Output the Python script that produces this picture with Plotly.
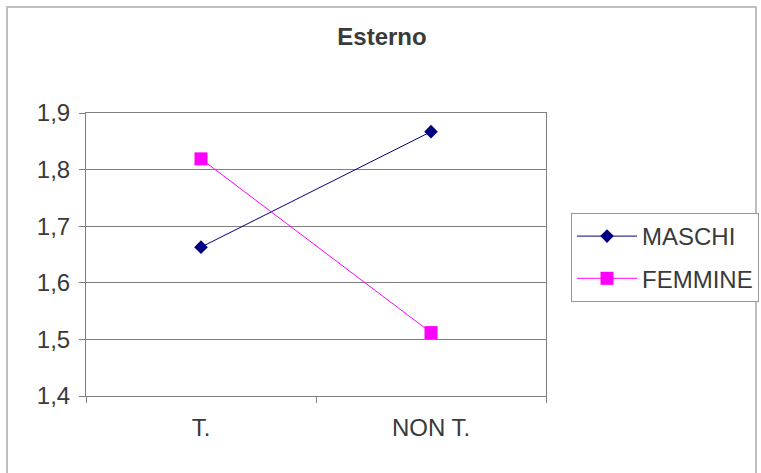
import plotly.graph_objects as go

categories = ["T.", "NON T."]
maschi = [1.663, 1.867]
femmine = [1.819, 1.512]
y_ticks = [1.4, 1.5, 1.6, 1.7, 1.8, 1.9]

W, H = 761, 473
L, R, T, B = 86, 546, 113, 396
pw, ph = R - L, B - T

def px(x):
    return (x - L) / pw

def py(y):
    return (B - y) / ph

fig = go.Figure()
fig.add_trace(go.Scatter(
    x=categories, y=maschi, name="MASCHI", mode="lines+markers",
    line=dict(color="#000080", width=1),
    marker=dict(symbol="diamond", size=10.5, color="#000080"),
    legendgroup="a",
))
fig.add_trace(go.Scatter(
    x=categories, y=femmine, name="FEMMINE", mode="lines+markers",
    line=dict(color="#FF00FF", width=1),
    marker=dict(symbol="square", size=13, color="#FF00FF"),
    legendgroup="b",
))

font = "Liberation Sans, Arial, sans-serif"
fig.update_layout(
    width=W, height=H,
    margin=dict(l=L, r=W - R, t=T, b=H - B, pad=0, autoexpand=False),
    paper_bgcolor="white", plot_bgcolor="white",
    separators=",.",
    font=dict(family=font, size=24, color="#3a3a3a"),
    title=dict(text="<b>Esterno</b>", x=382 / W, xref="container", xanchor="center",
               y=1 - 37 / H, yref="container", yanchor="middle",
               font=dict(size=24, color="#3a3a3a")),
    showlegend=True,
    legend=dict(
        x=px(571), y=py(213), xanchor="left", yanchor="top",
        bordercolor="#999999", borderwidth=1, bgcolor="white",
        font=dict(size=24, color="#3a3a3a"),
        traceorder="grouped", tracegroupgap=8, itemwidth=60,
    ),
    xaxis=dict(
        type="category", range=[-0.5, 1.5],
        showline=True, linecolor="#808080", linewidth=1, mirror=True,
        ticks="outside", ticklen=6, tickcolor="#808080", tickson="boundaries",
        showgrid=False, zeroline=False, ticklabelstandoff=10,
        fixedrange=True,
    ),
    yaxis=dict(
        range=[1.4, 1.9], tickvals=y_ticks, tickformat=".1f",
        showline=True, linecolor="#808080", linewidth=1, mirror=True,
        ticks="outside", ticklen=6, tickcolor="#808080",
        showgrid=True, gridcolor="#808080", gridwidth=1, zeroline=False,
        ticklabelstandoff=4,
    ),
    shapes=[dict(
        type="rect", xref="paper", yref="paper",
        x0=px(7), x1=px(756), y0=py(490), y1=py(7),
        line=dict(color="#BFBFBF", width=2), fillcolor="rgba(0,0,0,0)",
        layer="above",
    )],
)

fig.write_html("out.html", config={"displayModeBar": False},
               post_script="document.body.style.margin='0';")
